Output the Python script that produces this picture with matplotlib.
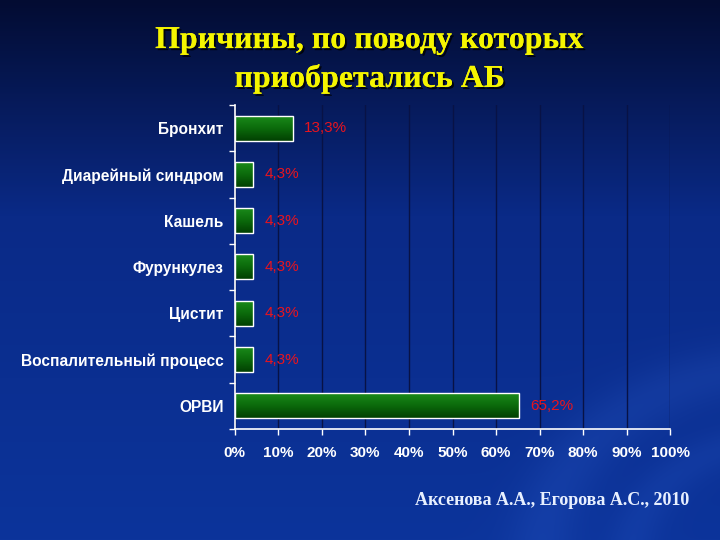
import matplotlib
matplotlib.use("Agg")
import matplotlib.pyplot as plt
import matplotlib.patheffects as pe
import numpy as np
from matplotlib.colors import LinearSegmentedColormap

categories = ["Бронхит", "Диарейный синдром", "Кашель", "Фурункулез",
              "Цистит", "Воспалительный процесс", "ОРВИ"]
values = [13.3, 4.3, 4.3, 4.3, 4.3, 4.3, 65.2]
value_labels = ["13,3%", "4,3%", "4,3%", "4,3%", "4,3%", "4,3%", "65,2%"]
xticks = [0, 10, 20, 30, 40, 50, 60, 70, 80, 90, 100]
xtick_labels = [f"{t}%" for t in xticks]
title_lines = ["Причины, по поводу которых", "приобретались АБ"]
footer = "Аксенова А.А., Егорова А.С., 2010"

fig = plt.figure(figsize=(7.2, 5.4), dpi=100)

# background gradient
bg = fig.add_axes([0, 0, 1, 1], zorder=-10)
bg.set_axis_off()
h, w = 540, 720
top = np.array([3, 12, 50]) / 255
mid = np.array([10, 42, 135]) / 255
bot = np.array([12, 52, 155]) / 255
f = np.linspace(0, 1, h)[:, None]
c = np.where(f < 0.4,
             top + (mid - top) * (f / 0.4),
             mid + (bot - mid) * ((f - 0.4) / 0.6))
img = np.repeat(c[:, None, :], w, axis=1)
yy, xx = np.mgrid[0:h, 0:w]
r = np.sqrt((xx - 780) ** 2 + ((yy - 560) / 0.8) ** 2)
glow = np.exp(-((r - 240) / 35) ** 2) * 0.05 + np.exp(-((r - 150) / 25) ** 2) * 0.04
img = np.clip(img + glow[..., None] * np.array([0.6, 0.8, 1.0]), 0, 1)
bg.imshow(img, extent=[0, 1, 0, 1], aspect="auto", origin="upper")
bg.set_xlim(0, 1)
bg.set_ylim(0, 1)

ax = fig.add_axes([0.326, 0.2056, 0.605, 0.6])
ax.set_facecolor("none")
n = len(categories)
ypos = np.arange(n)
bar_h = 0.54

bars = ax.barh(ypos, values, height=bar_h, facecolor="none",
               edgecolor="white", linewidth=1.0, zorder=3)
grad = np.linspace(0, 1, 64)[:, None]
gcmap = LinearSegmentedColormap.from_list("g", ["#1a8a1a", "#0b6a0b", "#024002"])
for b in bars:
    x0, y0 = b.get_x(), b.get_y()
    bw, bh = b.get_width(), b.get_height()
    im = ax.imshow(grad, cmap=gcmap, aspect="auto",
                   extent=[x0, x0 + bw, y0 + bh, y0], zorder=2)
    im.set_clip_path(b)

for b, lab in zip(bars, value_labels):
    ax.annotate(lab, (b.get_width(), b.get_y() + b.get_height() / 2),
                xytext=(8, 0), textcoords="offset points",
                ha="left", va="center", color="#e8141e", fontsize=11,
                family="Liberation Sans", zorder=4)

ax.set_xlim(0, 100)
ax.set_ylim(n - 0.5, -0.5)
ax.set_xticks(xticks)
ax.set_xticklabels(xtick_labels, fontsize=11, fontweight="bold",
                   color="white", family="Liberation Sans")
ax.set_yticks(ypos)
ax.set_yticklabels(categories, fontsize=11.2, fontweight="bold",
                   color="white", family="Liberation Sans")
ax.tick_params(axis="y", length=0, pad=8)
ax.set_yticks(np.arange(-0.5, n, 1), minor=True)
ax.tick_params(axis="y", which="minor", length=4, color="white", width=1)
ax.tick_params(axis="x", length=4, color="white", width=1, pad=8)
ax.grid(axis="x", color="#081245", linewidth=1.0, zorder=1)
ax.set_axisbelow(True)
for s in ["top", "right"]:
    ax.spines[s].set_visible(False)
ax.spines["left"].set_color("white")
ax.spines["bottom"].set_color("white")
ax.spines["left"].set_linewidth(1.2)
ax.spines["bottom"].set_linewidth(1.2)

shadow = [pe.withSimplePatchShadow(offset=(1.5, -1.5), shadow_rgbFace="black", alpha=0.8),
          pe.Normal()]
fig.text(0.514, 0.911, title_lines[0], ha="center", va="baseline", fontsize=23,
         fontweight="bold", color="#f5f500", family="Liberation Serif",
         path_effects=shadow)
fig.text(0.514, 0.839, title_lines[1], ha="center", va="baseline", fontsize=23,
         fontweight="bold", color="#f5f500", family="Liberation Serif",
         path_effects=shadow)
fig.text(0.576, 0.073, footer, ha="left", va="center", fontsize=13,
         fontweight="bold", color="#e8f0ff", family="Liberation Serif")

fig.savefig("out.png", dpi=100, facecolor=fig.get_facecolor())
